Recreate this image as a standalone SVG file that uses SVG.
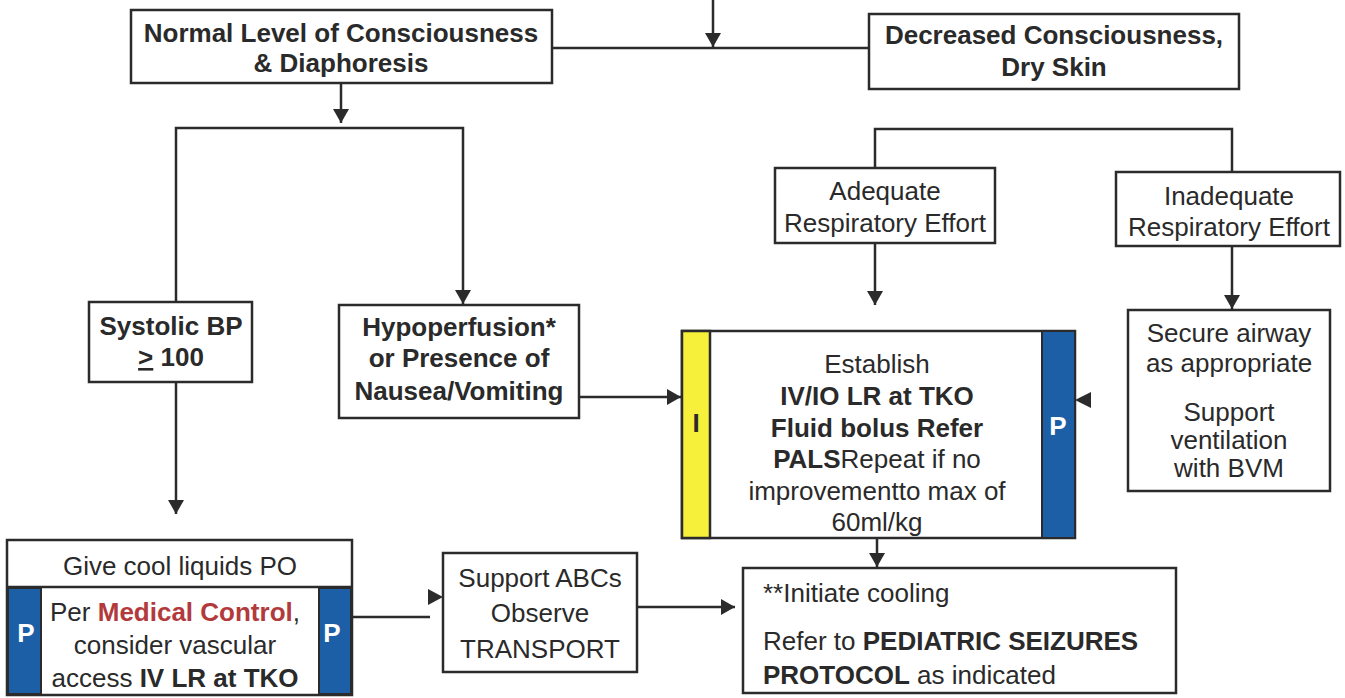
<svg xmlns="http://www.w3.org/2000/svg" width="1345" height="698" viewBox="0 0 1345 698">
<style>
.box{fill:#fff;stroke:#2b2b2b;stroke-width:2.5}
.t{font-family:"Liberation Sans",Arial,sans-serif;font-size:26px;fill:#2a2a2a;text-anchor:middle}
.b{font-weight:bold}
.tl{text-anchor:start}
.con{fill:none;stroke:#2b2b2b;stroke-width:2.5}
.ah{fill:#2b2b2b}
.yel{fill:#f6f03a;stroke:#2b2b2b;stroke-width:2.5}
.blu{fill:#1d5fa6;stroke:#2b2b2b;stroke-width:2}
.red{fill:#b23a3c;font-weight:bold}
</style>
<defs>
<marker id="arr" viewBox="0 0 14 16" refX="14" refY="8" markerWidth="14" markerHeight="16" markerUnits="userSpaceOnUse" orient="auto">
<path d="M0,0 L14,8 L0,16 z" fill="#2b2b2b"/>
</marker>
</defs>
<rect width="1345" height="698" fill="#fff"/>

<g id="connectors">
<path class="con" d="M713,0 V47" marker-end="url(#arr)"/>
<path class="con" d="M552,48 H869"/>
<path class="con" d="M341,83 V123" marker-end="url(#arr)"/>
<path class="con" d="M176,302 V128 H463 V304" marker-end="url(#arr)"/>
<path class="con" d="M176,382 V514" marker-end="url(#arr)"/>
<path class="con" d="M579,397 H681" marker-end="url(#arr)"/>
<path class="con" d="M875,168 V129 H1232 V172"/>
<path class="con" d="M875,243 V305" marker-end="url(#arr)"/>
<path class="con" d="M1232,246 V309" marker-end="url(#arr)"/>
<polygon class="ah" points="1075,400 1091,392 1091,408"/>
<path class="con" d="M352,617 H430"/>
<polygon class="ah" points="443,597 428,589 428,605"/>
<path class="con" d="M637,607 H735" marker-end="url(#arr)"/>
<path class="con" d="M877,538 V567" marker-end="url(#arr)"/>
</g>

<g id="normal">
<rect class="box" x="131" y="10" width="421" height="73"/>
<text class="t b" x="341" y="42">Normal Level of Consciousness</text>
<text class="t b" x="341" y="72">&amp; Diaphoresis</text>
</g>

<g id="decreased">
<rect class="box" x="869" y="14" width="370" height="75"/>
<text class="t b" x="1054" y="44">Decreased Consciousness,</text>
<text class="t b" x="1054" y="76">Dry Skin</text>
</g>

<g id="adequate">
<rect class="box" x="775" y="168" width="220" height="75"/>
<text class="t" x="885" y="200">Adequate</text>
<text class="t" x="885" y="232">Respiratory Effort</text>
</g>

<g id="inadequate">
<rect class="box" x="1116" y="172" width="224" height="74"/>
<text class="t" x="1229" y="205">Inadequate</text>
<text class="t" x="1229" y="236">Respiratory Effort</text>
</g>

<g id="systolic">
<rect class="box" x="89" y="302" width="163" height="80"/>
<text class="t b" x="171" y="335">Systolic BP</text>
<text class="t b" x="171" y="366"><tspan text-decoration="underline">&gt;</tspan> 100</text>
</g>

<g id="hypoperfusion">
<rect class="box" x="339" y="305" width="240" height="113"/>
<text class="t b" x="459" y="336">Hypoperfusion*</text>
<text class="t b" x="459" y="367">or Presence of</text>
<text class="t b" x="459" y="400">Nausea/Vomiting</text>
</g>

<g id="establish">
<rect class="box" x="682" y="331" width="393" height="207"/>
<rect class="yel" x="682" y="331" width="28" height="207"/>
<rect class="blu" x="1042" y="331" width="33" height="207"/>
<text class="t b" x="696" y="432">I</text>
<text class="t b" x="1058" y="435" fill="#fff" style="fill:#fff">P</text>
<text class="t" x="877" y="373">Establish</text>
<text class="t b" x="877" y="405">IV/IO LR at TKO</text>
<text class="t b" x="877" y="437">Fluid bolus Refer</text>
<text class="t" x="877" y="468"><tspan font-weight="bold">PALS</tspan>Repeat if no</text>
<text class="t" x="877" y="500">improvementto max of</text>
<text class="t" x="877" y="531">60ml/kg</text>
</g>

<g id="secure">
<rect class="box" x="1128" y="310" width="202" height="181"/>
<text class="t" x="1229" y="342">Secure airway</text>
<text class="t" x="1229" y="372">as appropriate</text>
<text class="t" x="1229" y="421">Support</text>
<text class="t" x="1229" y="449">ventilation</text>
<text class="t" x="1229" y="477">with BVM</text>
</g>

<g id="cool-liquids">
<rect class="box" x="7" y="540" width="345" height="155"/>
<line x1="7" y1="587" x2="352" y2="587" stroke="#2b2b2b" stroke-width="2.5"/>
<rect class="blu" x="8" y="588" width="33" height="106"/>
<rect class="blu" x="319" y="588" width="32" height="106"/>
<text class="t" x="180" y="575">Give cool liquids PO</text>
<text class="t" x="175" y="621">Per <tspan class="red">Medical Control</tspan>,</text>
<text class="t" x="175" y="654">consider vascular</text>
<text class="t" x="175" y="687">access <tspan font-weight="bold">IV LR at TKO</tspan></text>
<text class="t b" x="26" y="642" style="fill:#fff">P</text>
<text class="t b" x="332" y="642" style="fill:#fff">P</text>
</g>

<g id="support-abcs">
<rect class="box" x="443" y="553" width="194" height="119"/>
<text class="t" x="540" y="587">Support ABCs</text>
<text class="t" x="540" y="622">Observe</text>
<text class="t" x="540" y="658">TRANSPORT</text>
</g>

<g id="cooling">
<rect class="box" x="743" y="568" width="433" height="125"/>
<text class="t tl" x="763" y="602">**Initiate cooling</text>
<text class="t tl" x="763" y="650">Refer to <tspan font-weight="bold">PEDIATRIC SEIZURES</tspan></text>
<text class="t tl" x="763" y="684"><tspan font-weight="bold">PROTOCOL</tspan> as indicated</text>
</g>
</svg>
